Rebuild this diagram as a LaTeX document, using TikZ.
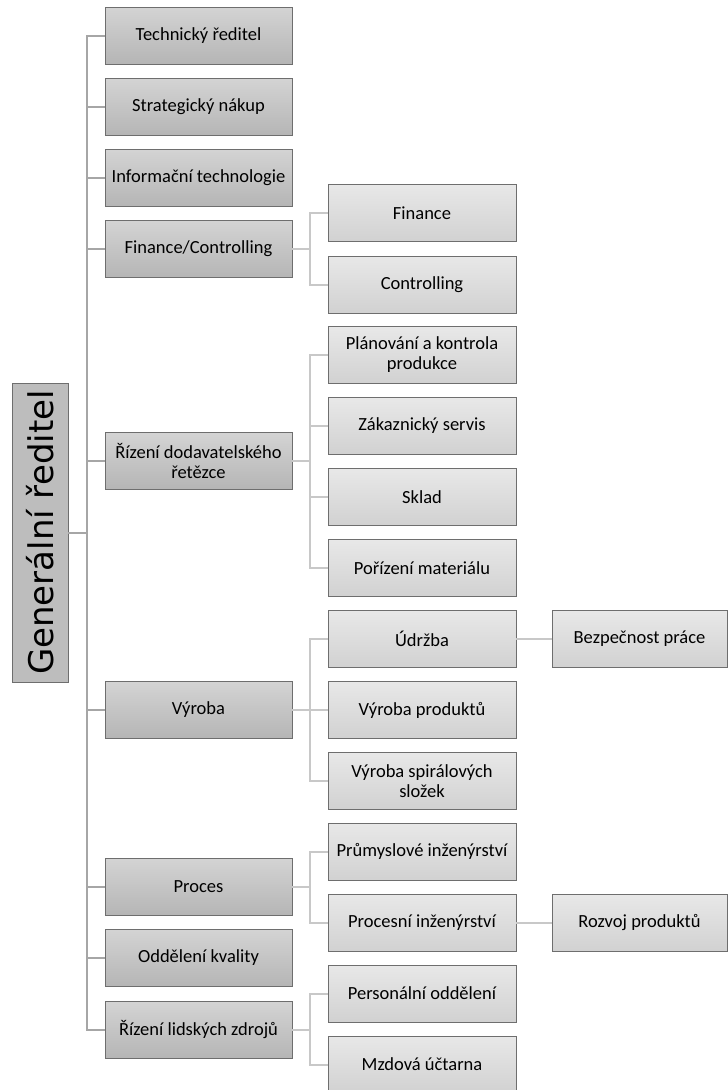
\documentclass[tikz,border=0pt]{standalone}
\usepackage{fontspec}
\setmainfont{Carlito}
\newfontfamily\bossfont{DejaVu Sans}

\definecolor{boxline}{HTML}{6E6E6E}
\definecolor{trunkgray}{HTML}{A6A6A6}
\definecolor{branchgray}{HTML}{C8C8C8}

\begin{document}
\begin{tikzpicture}[x=1pt,y=-1pt,
  boss/.style={draw=boxline, fill=black!26, rotate=90, minimum width=299pt,
    minimum height=56pt, inner sep=0pt, font=\bossfont\fontsize{34}{38}\selectfont},
  lvlone/.style={draw=boxline, top color=black!17, bottom color=black!29,
    minimum width=187pt, minimum height=57pt, inner sep=0pt, align=center,
    font=\fontsize{18.5}{20}\selectfont},
  lvltwo/.style={lvlone, top color=black!9, bottom color=black!18,
    minimum width=188pt},
  lvlthree/.style={lvltwo, minimum width=175pt},
  trunk/.style={draw=trunkgray, line width=2pt},
  branch/.style={draw=branchgray, line width=2pt}]
\useasboundingbox (0,0) rectangle (728,1090);

% generalni reditel
\node[boss] (gr) at (40,532.5) {Generální ředitel};

% prvni uroven
\node[lvlone] (tech) at (198.5,35.5) {Technický ředitel};
\node[lvlone] (nakup) at (198.5,107) {Strategický nákup};
\node[lvlone] (it) at (198.5,177.5) {Informační technologie};
\node[lvlone] (fin) at (198.5,249) {Finance/Controlling};
\node[lvlone] (scm) at (198.5,461) {Řízení dodavatelského\\řetězce};
\node[lvlone] (vyr) at (198.5,710) {Výroba};
\node[lvlone] (proc) at (198.5,887) {Proces};
\node[lvlone] (kval) at (198.5,958) {Oddělení kvality};
\node[lvlone] (hr) at (198.5,1030) {Řízení lidských zdrojů};

% druha uroven
\node[lvltwo] (finance) at (422,213) {Finance};
\node[lvltwo] (contr) at (422,284.5) {Controlling};
\node[lvltwo] (plan) at (422,355) {Plánování a kontrola\\produkce};
\node[lvltwo] (zak) at (422,426) {Zákaznický servis};
\node[lvltwo] (sklad) at (422,497) {Sklad};
\node[lvltwo] (poriz) at (422,568) {Pořízení materiálu};
\node[lvltwo] (udrz) at (422,639) {Údržba};
\node[lvltwo] (vprod) at (422,710) {Výroba produktů};
\node[lvltwo] (vspir) at (422,781) {Výroba spirálových\\složek};
\node[lvltwo] (prum) at (422,851.5) {Průmyslové inženýrství};
\node[lvltwo] (procinz) at (422,923) {Procesní inženýrství};
\node[lvltwo] (pers) at (422,993.5) {Personální oddělení};
\node[lvltwo] (mzdy) at (422,1064.5) {Mzdová účtarna};

% treti uroven
\node[lvlthree] (bozp) at (639.5,639) {Bezpečnost práce};
\node[lvlthree] (rozvoj) at (639.5,923) {Rozvoj produktů};

% spojnice
\path[trunk] (gr.south) -- ++(19,0) |- (tech.west);
\path[trunk] (gr.south) -- ++(19,0) |- (nakup.west);
\path[trunk] (gr.south) -- ++(19,0) |- (it.west);
\path[trunk] (gr.south) -- ++(19,0) |- (fin.west);
\path[trunk] (gr.south) -- ++(19,0) |- (scm.west);
\path[trunk] (gr.south) -- ++(19,0) |- (vyr.west);
\path[trunk] (gr.south) -- ++(19,0) |- (proc.west);
\path[trunk] (gr.south) -- ++(19,0) |- (kval.west);
\path[trunk] (gr.south) -- ++(19,0) |- (hr.west);
\path[branch] (fin.east) -- ++(18,0) |- (finance.west);
\path[branch] (fin.east) -- ++(18,0) |- (contr.west);
\path[branch] (scm.east) -- ++(18,0) |- (plan.west);
\path[branch] (scm.east) -- ++(18,0) |- (zak.west);
\path[branch] (scm.east) -- ++(18,0) |- (sklad.west);
\path[branch] (scm.east) -- ++(18,0) |- (poriz.west);
\path[branch] (vyr.east) -- ++(18,0) |- (udrz.west);
\path[branch] (vyr.east) -- ++(18,0) |- (vprod.west);
\path[branch] (vyr.east) -- ++(18,0) |- (vspir.west);
\path[branch] (proc.east) -- ++(18,0) |- (prum.west);
\path[branch] (proc.east) -- ++(18,0) |- (procinz.west);
\path[branch] (hr.east) -- ++(18,0) |- (pers.west);
\path[branch] (hr.east) -- ++(18,0) |- (mzdy.west);
\path[branch] (udrz.east) -- (bozp.west);
\path[branch] (procinz.east) -- (rozvoj.west);
\end{tikzpicture}
\end{document}
